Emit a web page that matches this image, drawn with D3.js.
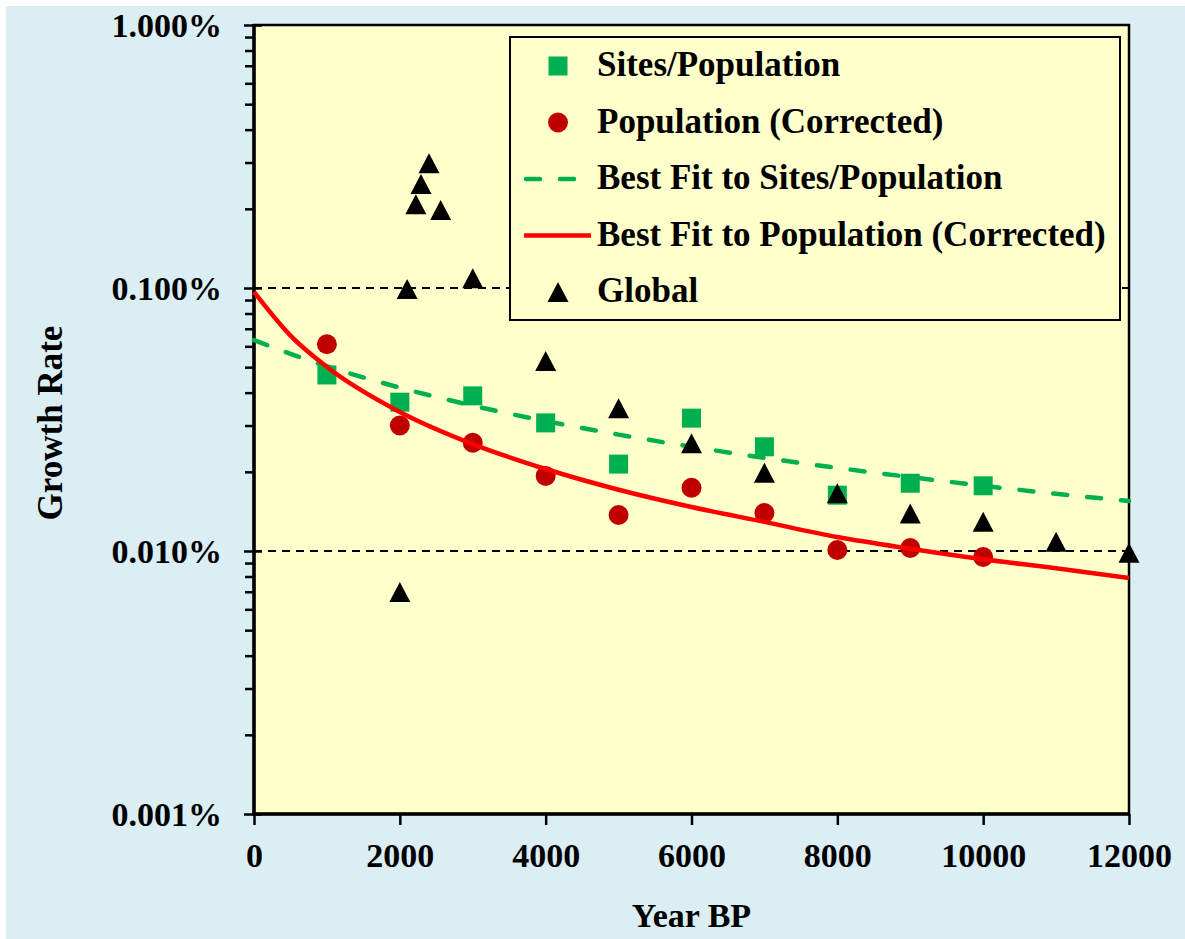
<!DOCTYPE html>
<html>
<head>
<meta charset="utf-8">
<script src="https://cdn.jsdelivr.net/npm/d3@7"></script>
<style>
  body { margin: 0; background: #ffffff; }
  svg text { font-family: "Liberation Serif", "Times New Roman", serif; font-weight: bold; fill: #000; }
</style>
</head>
<body>
<div id="chart"></div>
<script>
// growth rate values are in percent

// Sites/Population (green squares)
var sitesYears = [1000, 2000, 3000, 4000, 5000, 6000, 7000, 8000, 9000, 10000];
var sitesRates = [0.0467, 0.0368, 0.0389, 0.0307, 0.0214, 0.0320, 0.0249, 0.0163, 0.0181, 0.0177];

// Population (Corrected) (dark red circles)
var popYears = [1000, 2000, 3000, 4000, 5000, 6000, 7000, 8000, 9000, 10000];
var popRates = [0.0611, 0.0300, 0.0258, 0.0193, 0.0137, 0.0174, 0.01395, 0.01009, 0.01027, 0.00949];

// Global (black triangles)
var globalYears = [2000, 2100, 2220, 2290, 2400, 2560, 3000, 4000, 5000, 6000, 7000, 8000, 9000, 10000, 11000, 12000];
var globalRates = [0.00698, 0.0991, 0.2081, 0.2486, 0.298, 0.198, 0.1089, 0.0528, 0.0349, 0.0257, 0.01985, 0.01657, 0.0139, 0.01293, 0.01085, 0.00985];

// best fit curves
var fitYears = [0, 500, 1000, 2000, 3000, 4000, 5000, 6000, 7000, 8000, 9000, 10000, 11000, 12000];
var fitSites = [0.0634, 0.0562, 0.0504, 0.0418, 0.0357, 0.0312, 0.0277, 0.0249, 0.0226, 0.0207, 0.0191, 0.0177, 0.0165, 0.0155];
var fitPop = [0.0966, 0.0659, 0.0501, 0.0338, 0.0255, 0.0205, 0.0171, 0.0147, 0.0129, 0.0113, 0.0102, 0.0093, 0.0086, 0.0079];

var xTicks = [0, 2000, 4000, 6000, 8000, 10000, 12000];
var yTicks = [0.001, 0.01, 0.1, 1];
var yTickLabels = ["0.001%", "0.010%", "0.100%", "1.000%"];
var gridValues = [0.01, 0.1];

var legendLabels = ["Sites/Population", "Population (Corrected)", "Best Fit to Sites/Population",
    "Best Fit to Population (Corrected)", "Global"];

var width = 1185, height = 939;
var plot = {left: 254, right: 1129, top: 25, bottom: 814};

var svg = d3.select("#chart").append("svg")
    .attr("width", width)
    .attr("height", height);

// light blue background
svg.append("rect")
    .attr("x", 6).attr("y", 6)
    .attr("width", width - 6).attr("height", height - 6)
    .attr("fill", "#daeef3");

var x = d3.scaleLinear().domain([0, 12000]).range([plot.left, plot.right]);
var y = d3.scaleLog().domain([0.001, 1]).range([plot.bottom, plot.top]);

// plot area
svg.append("rect")
    .attr("x", plot.left).attr("y", plot.top)
    .attr("width", plot.right - plot.left).attr("height", plot.bottom - plot.top)
    .attr("fill", "#ffffcc")
    .attr("stroke", "#000")
    .attr("stroke-width", 2.5);

// dashed reference lines
svg.selectAll(".grid").data(gridValues).enter().append("line")
    .attr("class", "grid")
    .attr("x1", plot.left).attr("x2", plot.right)
    .attr("y1", function (d) { return y(d); })
    .attr("y2", function (d) { return y(d); })
    .attr("stroke", "#000")
    .attr("stroke-width", 2)
    .attr("stroke-dasharray", "8,6");

// minor y ticks
var minors = [];
yTicks.slice(0, 3).forEach(function (t) {
    for (var k = 2; k <= 9; k++) minors.push(t * k);
});
var yMinor = svg.append("g")
    .attr("transform", "translate(" + plot.left + ",0)")
    .call(d3.axisLeft(y).tickValues(minors).tickSize(9).tickFormat(""));
yMinor.select(".domain").remove();
yMinor.selectAll(".tick line").attr("stroke-width", 2.5);

// major y ticks (crossing the axis)
var yAxis = svg.append("g")
    .attr("transform", "translate(" + plot.left + ",0)")
    .call(d3.axisLeft(y).tickValues(yTicks).tickSize(10)
        .tickFormat(function (d, i) { return yTickLabels[i]; }));
yAxis.select(".domain").remove();
yAxis.selectAll(".tick line").attr("x1", 8).attr("x2", -10).attr("stroke-width", 2.5);
yAxis.selectAll(".tick text")
    .attr("x", -32)
    .attr("dy", "0.35em")
    .style("font-size", "34px")
    .style("font-family", "'Liberation Serif', serif")
    .style("font-weight", "bold");

// x axis
var xAxis = svg.append("g")
    .attr("transform", "translate(0," + plot.bottom + ")")
    .call(d3.axisBottom(x).tickValues(xTicks).tickSize(11).tickFormat(d3.format("d")));
xAxis.select(".domain").remove();
xAxis.selectAll(".tick line").attr("stroke-width", 2.5);
xAxis.selectAll(".tick text")
    .attr("y", 53)
    .attr("dy", 0)
    .style("font-size", "34px")
    .style("font-family", "'Liberation Serif', serif")
    .style("font-weight", "bold");

// axis spines (thick)
svg.append("line")
    .attr("x1", plot.left).attr("x2", plot.left)
    .attr("y1", plot.top - 1).attr("y2", plot.bottom + 1.5)
    .attr("stroke", "#000").attr("stroke-width", 3.5);
svg.append("line")
    .attr("x1", plot.left - 1.5).attr("x2", plot.right + 1)
    .attr("y1", plot.bottom).attr("y2", plot.bottom)
    .attr("stroke", "#000").attr("stroke-width", 3.5);

// axis titles
svg.append("text")
    .attr("x", (plot.left + plot.right) / 2)
    .attr("y", 927)
    .attr("text-anchor", "middle")
    .style("font-size", "34px")
    .text("Year BP");

svg.append("text")
    .attr("transform", "translate(62," + 423 + ") rotate(-90)")
    .attr("text-anchor", "middle")
    .style("font-size", "35px")
    .text("Growth Rate");

var sq = 19, circR = 10;
// triangle marker: 21 wide, 20 tall, centred on its box
var triangle = {
    draw: function (context, size) {
        var h = Math.sqrt(size);
        context.moveTo(0, -h / 2);
        context.lineTo(h * 0.525, h / 2);
        context.lineTo(-h * 0.525, h / 2);
        context.closePath();
    }
};
var triPath = d3.symbol().type(triangle).size(400);

// squares
svg.selectAll(".sites").data(sitesYears).enter().append("rect")
    .attr("class", "sites")
    .attr("x", function (d) { return x(d) - sq / 2; })
    .attr("y", function (d, i) { return y(sitesRates[i]) - sq / 2; })
    .attr("width", sq).attr("height", sq)
    .attr("fill", "#00b050");

// circles
svg.selectAll(".pop").data(popYears).enter().append("circle")
    .attr("class", "pop")
    .attr("cx", function (d) { return x(d); })
    .attr("cy", function (d, i) { return y(popRates[i]); })
    .attr("r", circR)
    .attr("fill", "#c00000");

// fit lines
var line = d3.line()
    .x(function (d) { return x(d[0]); })
    .y(function (d) { return y(d[1]); })
    .curve(d3.curveMonotoneX);

svg.append("path")
    .datum(d3.zip(fitYears, fitSites))
    .attr("d", line)
    .attr("fill", "none")
    .attr("stroke", "#00b050")
    .attr("stroke-width", 4.5)
    .attr("stroke-linecap", "round")
    .attr("stroke-dasharray", "14,20");

svg.append("path")
    .datum(d3.zip(fitYears, fitPop))
    .attr("d", line)
    .attr("fill", "none")
    .attr("stroke", "#ff0000")
    .attr("stroke-width", 4.5);

// triangles
svg.selectAll(".glob").data(globalYears).enter().append("path")
    .attr("class", "glob")
    .attr("d", triPath)
    .attr("transform", function (d, i) {
        return "translate(" + x(d) + "," + y(globalRates[i]) + ")";
    })
    .attr("fill", "#000");

// legend
var legend = {left: 510, top: 37, right: 1120, bottom: 320};
svg.append("rect")
    .attr("x", legend.left).attr("y", legend.top)
    .attr("width", legend.right - legend.left)
    .attr("height", legend.bottom - legend.top)
    .attr("fill", "#ffffcc")
    .attr("stroke", "#000")
    .attr("stroke-width", 2);

var rowY = function (i) { return legend.top + 29 + i * 56.5; };
var symX = 558;

var rows = svg.selectAll(".legrow").data(legendLabels).enter().append("g")
    .attr("class", "legrow")
    .attr("transform", function (d, i) { return "translate(0," + rowY(i) + ")"; });

rows.append("text")
    .attr("x", 597)
    .attr("y", 10)
    .style("font-size", "35px")
    .text(function (d) { return d; });

rows.filter(function (d, i) { return i == 0; }).append("rect")
    .attr("x", symX - sq / 2).attr("y", -sq / 2)
    .attr("width", sq).attr("height", sq)
    .attr("fill", "#00b050");
rows.filter(function (d, i) { return i == 1; }).append("circle")
    .attr("cx", symX).attr("cy", 0).attr("r", circR)
    .attr("fill", "#c00000");
rows.filter(function (d, i) { return i == 2; }).append("line")
    .attr("x1", 526).attr("x2", 590).attr("y1", 0).attr("y2", 0)
    .attr("stroke", "#00b050").attr("stroke-width", 4.5)
    .attr("stroke-linecap", "round")
    .attr("stroke-dasharray", "14,20");
rows.filter(function (d, i) { return i == 3; }).append("line")
    .attr("x1", 524).attr("x2", 591).attr("y1", 0).attr("y2", 0)
    .attr("stroke", "#ff0000").attr("stroke-width", 4.5);
rows.filter(function (d, i) { return i == 4; }).append("path")
    .attr("d", triPath)
    .attr("transform", "translate(" + symX + ",0)")
    .attr("fill", "#000");
</script>
</body>
</html>
